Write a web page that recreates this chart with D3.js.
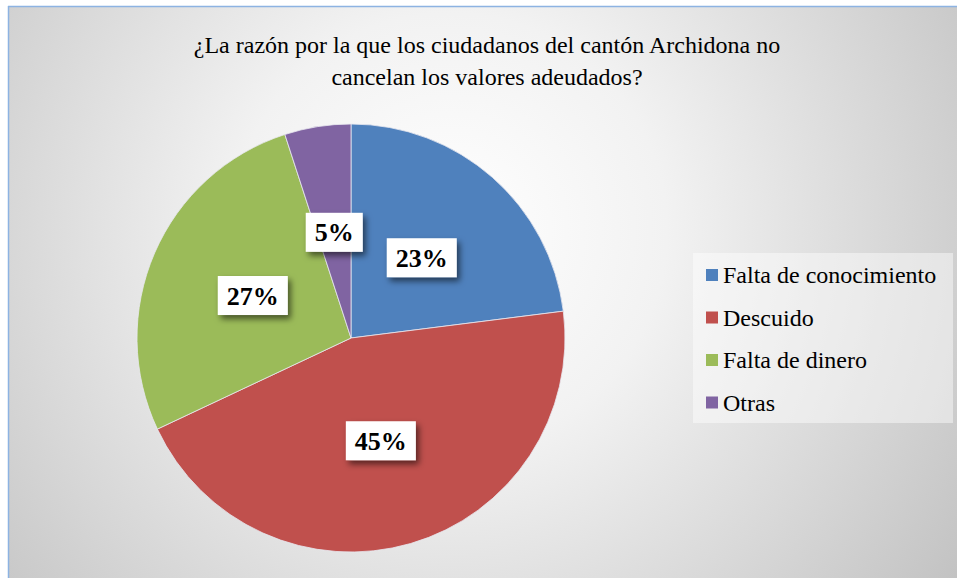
<!DOCTYPE html>
<html><head><meta charset="utf-8">
<script src="https://cdn.jsdelivr.net/npm/d3@7"></script>
</head><body style="margin:0">
<div id="wrap" style="position:relative;width:957px;height:578px;"></div>
<script>
const categories = ["Falta de conocimiento", "Descuido", "Falta de dinero", "Otras"];
const values = [23, 45, 27, 5];
const labels = ["23%", "45%", "27%", "5%"];
const colors = ["#4f81bd", "#c0504d", "#9bbb59", "#8064a2"];
const titleLines = ["¿La razón por la que los ciudadanos del cantón Archidona no", "cancelan los valores adeudados?"];
const FONT = '"Liberation Serif", "Times New Roman", Tinos, serif';

const W = 957, H = 578;
const wrap = d3.select("#wrap");
const svg = wrap.append("svg").attr("width", W).attr("height", H)
  .style("display", "block").style("position", "absolute").style("left", 0).style("top", 0);
const defs = svg.append("defs");
const rg = defs.append("radialGradient").attr("id", "bg")
  .attr("gradientUnits", "userSpaceOnUse").attr("cx", 450).attr("cy", 230).attr("r", 620);
rg.append("stop").attr("offset", "0").attr("stop-color", "#ffffff");
rg.append("stop").attr("offset", "0.35").attr("stop-color", "#f2f2f2");
rg.append("stop").attr("offset", "1").attr("stop-color", "#c2c2c2");

const sh = defs.append("filter").attr("id", "sh").attr("x", "-30%").attr("y", "-30%").attr("width", "170%").attr("height", "180%");
sh.append("feDropShadow").attr("dx", 3).attr("dy", 4).attr("stdDeviation", 3)
  .attr("flood-color", "#000").attr("flood-opacity", 0.55);

svg.append("rect").attr("x", 0).attr("y", 0).attr("width", W).attr("height", H).attr("fill", "#fff");
svg.append("rect").attr("x", 8).attr("y", 6).attr("width", W).attr("height", H).attr("fill", "url(#bg)");
svg.append("line").attr("x1", 8).attr("y1", 6.5).attr("x2", W).attr("y2", 6.5).attr("stroke", "#8db3e2").attr("stroke-width", 1.5);
svg.append("line").attr("x1", 8.5).attr("y1", 6).attr("x2", 8.5).attr("y2", H).attr("stroke", "#8db3e2").attr("stroke-width", 1.5);

const cx = 351, cy = 338, R = 214;
const pie = d3.pie().sort(null).value(d => d);
const arcs = pie(values);
const arc = d3.arc().innerRadius(0).outerRadius(R);
const g = svg.append("g").attr("transform", `translate(${cx},${cy})`);
g.selectAll("path").data(arcs).join("path")
  .attr("d", arc).attr("fill", (d, i) => colors[i])
  .attr("stroke", "#e8e8f0").attr("stroke-width", 0.8);

const labelArc = d3.arc().innerRadius(R * 0.5).outerRadius(R * 0.5);
const lg = g.selectAll("g.lab").data(arcs).join("g").attr("class", "lab")
  .attr("transform", d => `translate(${labelArc.centroid(d)})`);
lg.each(function(d, i) {
  const s = d3.select(this);
  const w = labels[i].length === 2 ? 57 : 70;
  s.append("rect").attr("x", -w / 2).attr("y", -19.5).attr("width", w).attr("height", 39)
    .attr("fill", "#fff").attr("filter", "url(#sh)");
  s.append("text").attr("text-anchor", "middle").attr("dy", "0.35em")
    .style("font-family", FONT)
    .attr("font-weight", "bold").attr("font-size", 26).attr("fill", "#000")
    .text(labels[i]);
});

// legend panel and swatches
const leg = svg.append("g");
leg.append("rect").attr("x", 693).attr("y", 253).attr("width", 260).attr("height", 170)
  .attr("fill", "#fff").attr("fill-opacity", 0.45);
const legY = (d, i) => 275 + i * 42.5;
leg.selectAll("rect.sw").data(categories).join("rect").attr("class", "sw")
  .attr("x", 706).attr("y", (d, i) => legY(d, i) - 6).attr("width", 12).attr("height", 12)
  .attr("fill", (d, i) => colors[i]);

// title as HTML text
wrap.selectAll("div.title").data(titleLines).join("div").attr("class", "title")
  .style("position", "absolute").style("left", "87px").style("width", "800px")
  .style("top", (d, i) => (29 + i * 32) + "px")
  .style("text-align", "center").style("white-space", "nowrap")
  .style("font-family", FONT).style("font-size", "24px").style("line-height", "32px")
  .style("color", "#000").text(d => d);

// legend labels as HTML text
wrap.selectAll("div.leg").data(categories).join("div").attr("class", "leg")
  .style("position", "absolute").style("left", "723px")
  .style("top", (d, i) => (legY(d, i) + 8.2 - 24.1) + "px")
  .style("white-space", "nowrap")
  .style("font-family", FONT).style("font-size", "24px").style("line-height", "32px")
  .style("color", "#000").text(d => d);
</script>
</body></html>
